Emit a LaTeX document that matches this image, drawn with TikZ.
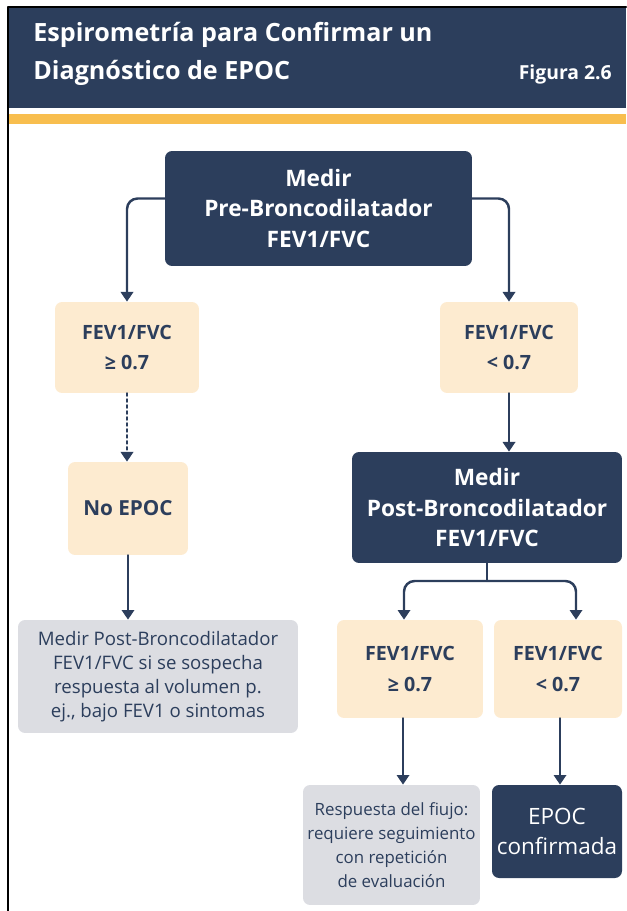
\documentclass[tikz,border=0pt]{standalone}
\usepackage{fontspec}
\setmainfont{Open Sans}
\usetikzlibrary{arrows.meta}
\definecolor{azul}{HTML}{2C3E5C}
\definecolor{crema}{HTML}{FDEBD0}
\definecolor{grisc}{HTML}{DCDDE2}
\definecolor{amarillo}{HTML}{F8BE4E}
\begin{document}
\begin{tikzpicture}[x=0.02cm, y=-0.02cm, line join=round, line cap=round, >={Triangle[width=7pt,length=5.5pt]},
  caja/.style={rounded corners=4pt, align=center, inner sep=0pt},
  oscura/.style={caja, fill=azul, text=white, font=\bfseries\fontsize{12.9}{17.5}\selectfont},
  cremab/.style={caja, fill=crema, text=azul, font=\bfseries\fontsize{11.2}{17.5}\selectfont},
  grisb/.style={caja, fill=grisc, text=azul, font=\fontsize{10.6}{13.6}\selectfont},
  linea/.style={azul, line width=1.4pt},
  flecha/.style={linea, ->, rounded corners=6pt}]
% marco y cabecera
\useasboundingbox (0,0) rectangle (626,911);
\fill[azul] (8,7) rectangle (626,108);
\fill[amarillo] (8,114) rectangle (626,124);
\draw[line width=1.2pt] (8,911) -- (8,7) -- (626,7);
\node[anchor=base west, inner sep=0pt, text=white, font=\bfseries\fontsize{14.3}{15}\selectfont] (titulo1) at (33,42) {Espirometría para Confirmar un};
\node[anchor=base west, inner sep=0pt, text=white, font=\bfseries\fontsize{14.3}{15}\selectfont] (titulo2) at (33,80) {Diagnóstico de EPOC};
\node[anchor=base east, inner sep=0pt, text=white, font=\bfseries\fontsize{11}{12}\selectfont] (figura) at (612,80) {Figura 2.6};
% cajas
\node[oscura, minimum width=61.4mm, minimum height=23mm] (pre) at (318.5,208.5) {Medir\\Pre-Broncodilatador\\FEV1/FVC};
\node[cremab, minimum width=28.8mm, minimum height=18.2mm] (mayor) at (127,347.5) {FEV1/FVC\\≥ 0.7};
\node[cremab, minimum width=27.6mm, minimum height=18.2mm] (menor) at (509,347.5) {FEV1/FVC\\< 0.7};
\node[cremab, font=\bfseries\fontsize{11.8}{17}\selectfont, minimum width=24mm, minimum height=18.6mm] (noepoc) at (128,508.5) {No EPOC};
\node[grisb, minimum width=56mm, minimum height=22.6mm] (sospecha) at (158,676.5) {Medir Post-Broncodilatador\\FEV1/FVC si se sospecha\\respuesta al volumen p.\\ej., bajo FEV1 o sintomas};
\node[oscura, minimum width=54mm, minimum height=22.2mm] (post) at (487,507.5) {Medir\\Post-Broncodilatador\\FEV1/FVC};
\node[cremab, minimum width=29.2mm, minimum height=19.6mm] (postmayor) at (410,669) {FEV1/FVC\\≥ 0.7};
\node[cremab, minimum width=25.6mm, minimum height=19.6mm] (postmenor) at (558,669) {FEV1/FVC\\< 0.7};
\node[grisb, font=\fontsize{9.6}{13.6}\selectfont, minimum width=35.4mm, minimum height=24mm] (flujo) at (391.5,845) {Respuesta del fiujo:\\requiere seguimiento\\con repetición\\de evaluación};
\node[oscura, font=\fontsize{12.8}{17}\selectfont, minimum width=26mm, minimum height=18.6mm] (epoc) at (557,831.5) {EPOC\\confirmada};
% flechas
\coordinate (rama) at (489,581);
\draw[flecha] ([yshift=2mm]pre.west) -| (mayor.north);
\draw[flecha] ([yshift=2mm]pre.east) -| (menor.north);
\draw[flecha, dotted] (mayor.south) -- (mayor.south |- noepoc.north);
\draw[flecha] (noepoc.south) -- (noepoc.south |- sospecha.north);
\draw[flecha] (menor.south) -- (menor.south |- post.north);
\draw[linea] (post.south |- rama) -- (post.south);
\draw[flecha] (rama) -| ([xshift=-1.2mm]postmayor.north);
\draw[flecha] (rama) -| ([xshift=3.6mm]postmenor.north);
\draw[flecha] ([xshift=-1.4mm]postmayor.south) -- ([xshift=-1.4mm]postmayor.south |- flujo.north);
\draw[flecha] ([xshift=0.4mm]postmenor.south) -- ([xshift=0.4mm]postmenor.south |- epoc.north);
\end{tikzpicture}
\end{document}
